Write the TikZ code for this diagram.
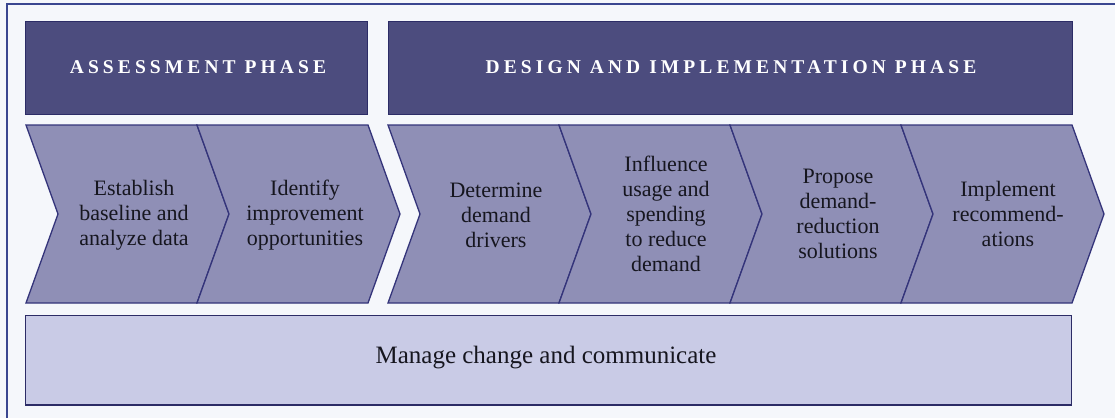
\documentclass[tikz,border=0pt]{standalone}
\usepackage{fontspec}
\setmainfont{Liberation Serif}
\newfontfamily\hdfont[LetterSpace=21]{Liberation Serif}
\definecolor{bgc}{HTML}{F5F7FB}
\definecolor{framec}{HTML}{3A4690}
\definecolor{hdfill}{HTML}{4C4C7E}
\definecolor{hdline}{HTML}{2C2C66}
\definecolor{chfill}{HTML}{8F8FB6}
\definecolor{chline}{HTML}{34347A}
\definecolor{btfill}{HTML}{C9CBE6}
\definecolor{txt}{HTML}{16161F}
\begin{document}
\begin{tikzpicture}[x=1pt,y=-1pt,
  hdbox/.style={fill=hdfill,draw=hdline,line width=1pt},
  chev/.style={fill=chfill,draw=chline,line width=1.3pt,line join=miter},
  hdtext/.style={text=white,font=\hdfont\bfseries\fontsize{19.5}{22}\selectfont},
  chtext/.style={text=txt,align=center,font=\fontsize{22}{25}\selectfont,inner sep=0pt},
  bttext/.style={text=txt,font=\fontsize{25}{28}\selectfont,inner sep=0pt}]
\useasboundingbox (0,0) rectangle (1115,418);
\fill[bgc] (0,0) rectangle (1115,418);
% outer frame (top and left visible)
\draw[framec,line width=1.2pt] (7,418) -- (7,4) -- (1115,4);
% headers
\draw[hdbox] (25,21) rectangle (367,114);
\node[hdtext] (hA) at (198,67) {ASSESSMENT PHASE};
\draw[hdbox] (388,21) rectangle (1072,114);
\node[hdtext] (hB) at (731,67) {DESIGN AND IMPLEMENTATION PHASE};
% chevrons
\def\W{171}\def\D{32}
\foreach \L in {26,197,388,559,730,901}{
  \draw[chev] (\L,125) -- ++(\W,0) -- ++(\D,89) -- ++(-\D,89) -- ++(-\W,0) -- ++(\D,-89) -- cycle;
}
\node[chtext] (c1) at (134,215) {Establish\\baseline and\\analyze data};
\node[chtext] (c2) at (305,215) {Identify\\improvement\\opportunities};
\node[chtext] (c3) at (496,215) {Determine\\demand\\drivers};
\node[chtext] (c4) at (666,214) {Influence\\usage and\\spending\\to reduce\\demand};
\node[chtext] (c5) at (838,214) {Propose\\demand-\\reduction\\solutions};
\node[chtext] (c6) at (1008,214) {Implement\\recommend-\\ations};
% bottom bar
\draw[fill=btfill,draw=hdline,line width=1pt] (25,315) rectangle (1071,405);
\draw[hdline,line width=2pt] (25,405) -- (1071,405);
\node[bttext] (bt) at (546,358) {Manage change and communicate};
\end{tikzpicture}
\end{document}
